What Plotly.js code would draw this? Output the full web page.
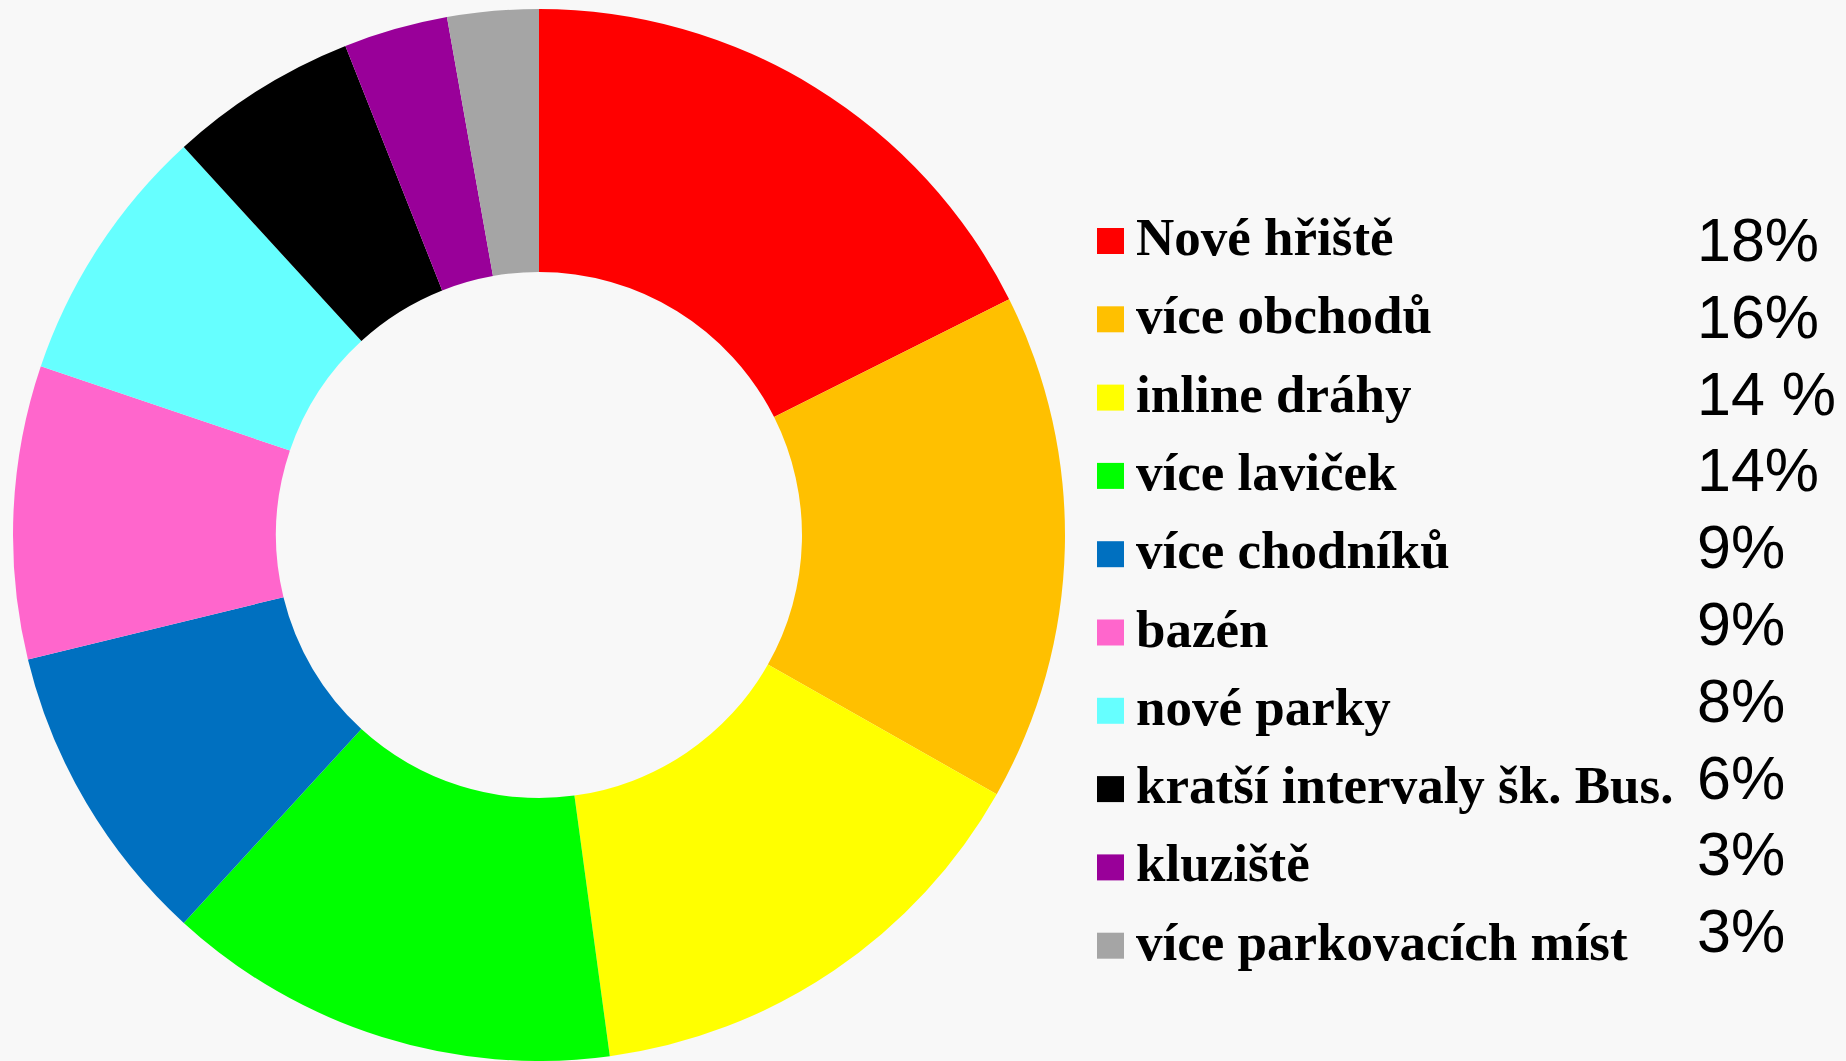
<!DOCTYPE html>
<html>
<head>
<meta charset="utf-8">
<script src="https://cdn.plot.ly/plotly-3.0.1.min.js"></script>
<style>
html,body{margin:0;padding:0;background:#f8f8f8;}
#chart{width:1846px;height:1061px;}
</style>
</head>
<body>
<div id="chart"></div>
<script>
const labels = ["Nové hřiště","více obchodů","inline dráhy","více laviček","více chodníků","bazén","nové parky","kratší intervaly šk. Bus.","kluziště","více parkovacích míst"];
const values = [17.6,15.6,14.65,13.95,9.4,9.0,8.0,5.8,3.2,2.8];
const pctLabels = ["18%","16%","14 %","14%","9%","9%","8%","6%","3%","3%"];
const colors = ["#FF0000","#FFC000","#FFFF00","#00FF00","#0070C0","#FF66CC","#66FFFF","#000000","#990099","#A5A5A5"];

const W = 1846, H = 1061;
const px = x => x / W;
const py = y => 1 - y / H;

const trace = {
  type: "pie",
  labels: labels,
  values: values,
  sort: false,
  direction: "clockwise",
  rotation: 0,
  hole: 0.5,
  marker: {colors: colors, line: {width: 0}},
  textinfo: "none",
  hoverinfo: "label+percent",
  showlegend: false,
  domain: {x: [px(13), px(1065)], y: [0, py(9)]}
};

const annotations = [];
const shapes = [];
const rowStep = 78.3, pctStep = 76.8;
labels.forEach((lab, i) => {
  const cy = 241 + i * rowStep;
  shapes.push({
    type: "rect", xref: "paper", yref: "paper",
    x0: px(1097), x1: px(1124), y0: py(cy - 13), y1: py(cy + 13),
    fillcolor: colors[i], line: {width: 0}
  });
  annotations.push({
    xref: "paper", yref: "paper", x: px(1134), y: py(cy - 4),
    xanchor: "left", yanchor: "middle", showarrow: false,
    text: "<b>" + lab + "</b>",
    font: {family: "Liberation Serif", size: 53, color: "#000"}
  });
  annotations.push({
    xref: "paper", yref: "paper", x: px(1695), y: py(240 + i * pctStep),
    xanchor: "left", yanchor: "middle", showarrow: false,
    text: pctLabels[i],
    font: {family: "Liberation Sans", size: 61, color: "#000"}
  });
});

const layout = {
  width: W, height: H,
  margin: {l: 0, r: 0, t: 0, b: 0},
  paper_bgcolor: "#f8f8f8",
  plot_bgcolor: "#f8f8f8",
  annotations: annotations,
  shapes: shapes,
  showlegend: false
};

Plotly.newPlot("chart", [trace], layout, {displayModeBar: false, staticPlot: true});
</script>
</body>
</html>
